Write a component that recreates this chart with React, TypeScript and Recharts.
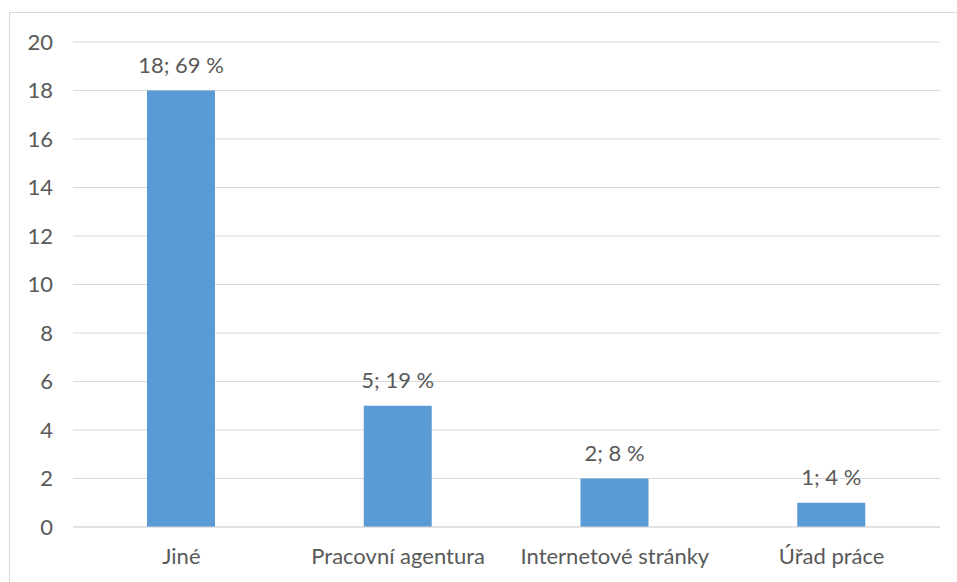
import { BarChart, Bar, XAxis, YAxis, CartesianGrid, LabelList } from 'recharts';

const categories = ['Jiné', 'Pracovní agentura', 'Internetové stránky', 'Úřad práce'];
const counts = [18, 5, 2, 1];
const shares = ['69 %', '19 %', '8 %', '4 %'];
const yTicks = [0, 2, 4, 6, 8, 10, 12, 14, 16, 18, 20];

const data = categories.map((name, i) => ({
  name,
  value: counts[i],
  label: `${counts[i]}; ${shares[i]}`,
}));

const textStyle = { fontSize: 22, fill: '#595959', fontFamily: 'Lato, "Open Sans", sans-serif' };

export default function App() {
  return (
    <div style={{ position: 'absolute', left: 0, top: 0, width: 957, height: 582, background: '#fff', overflow: 'hidden' }}>
      <div
        style={{
          position: 'absolute',
          left: 9,
          top: 12,
          width: 960,
          height: 580,
          border: '1px solid #d9d9d9',
          boxSizing: 'border-box',
        }}
      />
      <BarChart
        width={957}
        height={582}
        data={data}
        margin={{ top: 42, right: 17, left: 0, bottom: 25 }}
        style={{ position: 'absolute', left: 0, top: 0 }}
      >
        <CartesianGrid vertical={false} stroke="#d9d9d9" />
        <XAxis
          dataKey="name"
          height={30}
          tickLine={false}
          axisLine={{ stroke: '#d9d9d9' }}
          tickMargin={15}
          tick={textStyle}
        />
        <YAxis
          width={73}
          domain={[0, 20]}
          ticks={yTicks}
          interval={0}
          tickLine={false}
          axisLine={false}
          tickMargin={14}
          tick={textStyle}
        />
        <Bar dataKey="value" fill="#5b9bd5" barSize={68} isAnimationActive={false}>
          <LabelList dataKey="label" position="top" offset={18} style={textStyle} />
        </Bar>
      </BarChart>
    </div>
  );
}
